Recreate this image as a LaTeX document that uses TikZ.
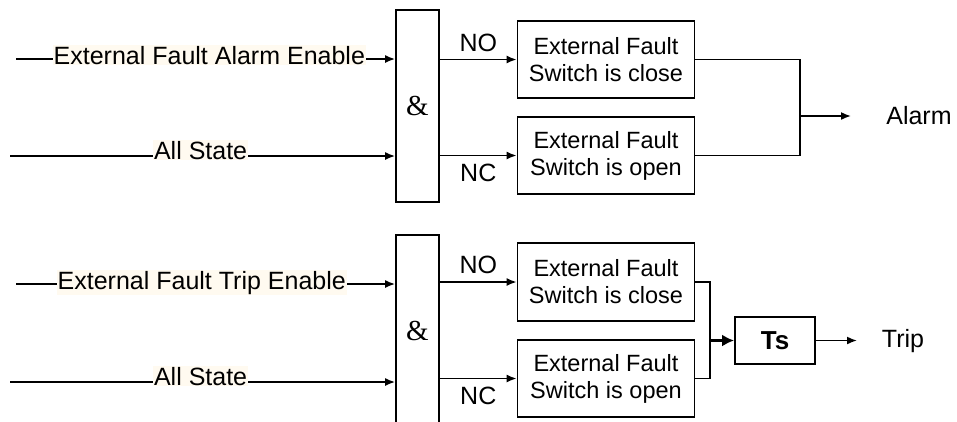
\documentclass[tikz,border=0pt]{standalone}
\usepackage{fontspec}
\setmainfont{Liberation Sans}
\newfontfamily\ampfont{Liberation Serif}
\usetikzlibrary{arrows.meta}
\definecolor{labelbg}{RGB}{255,250,240}

\begin{document}
\begin{tikzpicture}[x=1pt,y=1pt,>={Latex[length=10pt,width=8pt]}]
\tikzstyle{every node}+=[font=\fontsize{25}{28}\selectfont]
\tikzstyle{andgate}=[draw,line width=1.8pt,minimum width=43,minimum height=192,inner sep=0pt,font=\fontsize{29}{30}\selectfont\ampfont]
\tikzstyle{switchbox}=[draw,line width=1.8pt,minimum width=177,minimum height=77,inner sep=0pt,align=center,font=\fontsize{23.5}{27}\selectfont]
\tikzstyle{inlabel}=[fill=labelbg,inner sep=1pt,anchor=base]
\tikzstyle{wire}=[line width=1.6pt]
\useasboundingbox (0,0) rectangle (957,-421);
% alarm part
\node[andgate] (and1) at (417.5,-106) {\raisebox{-4pt}{\&}};
\coordinate (a1) at (16,-59);
\coordinate (a2) at (10,-156);
\draw[wire,->] (a1) -- node[inlabel,pos=0.51,yshift=-5pt] {External Fault Alarm Enable} (a1 -| and1.west);
\draw[wire,->] (a2) -- node[inlabel,pos=0.495,yshift=-3pt] {All State} (a2 -| and1.west);
\node[switchbox] (sw1) at (606,-59.5) {External Fault\\Switch is close};
\node[switchbox] (sw2) at (606,-155.5) {External Fault\\Switch is open};
\draw[wire,->] (and1.east |- sw1.west) -- node[above=4pt] {NO} (sw1.west);
\draw[wire,->] (and1.east |- sw2.west) -- node[below=4pt] {NC} (sw2.west);
\draw[wire] (sw1.east) -- (800,-59.5) |- (sw2.east);
\coordinate (j1) at (800,-116);
\coordinate (alarmend) at (851,-116);
\node (alarm) at (919,-116) {Alarm};
\draw[wire,->] (j1) -- (alarmend);
% trip part
\node[andgate] (and2) at (417.5,-331) {\raisebox{-4pt}{\&}};
\coordinate (b1) at (16,-284);
\coordinate (b2) at (10,-382);
\draw[wire,->] (b1) -- node[inlabel,pos=0.49,yshift=-5pt] {External Fault Trip Enable} (b1 -| and2.west);
\draw[wire,->] (b2) -- node[inlabel,pos=0.495,yshift=-3pt] {All State} (b2 -| and2.west);
\node[switchbox,minimum height=78] (sw3) at (606,-282) {External Fault\\Switch is close};
\node[switchbox] (sw4) at (606,-378.5) {External Fault\\Switch is open};
\draw[wire,->] (and2.east |- sw3.west) -- node[above=4pt] {NO} (sw3.west);
\draw[wire,->] (and2.east |- sw4.west) -- node[below=4pt] {NC} (sw4.west);
\draw[wire] (sw3.east) -- (710,-282) |- (sw4.east);
\node[draw,line width=1.8pt,minimum width=80,minimum height=47,inner sep=0pt,font=\fontsize{26}{28}\selectfont\bfseries] (ts) at (775,-340.5) {Ts};
\coordinate (j2) at (710,-340.5);
\draw[line width=3.5pt,-{Latex[length=12pt,width=12pt]}] (j2) -- (ts.west);
\coordinate (tripend) at (857,-340.5);
\node (trip) at (903,-341) {Trip};
\draw[wire,->] (ts.east) -- (tripend);
\end{tikzpicture}
\end{document}
